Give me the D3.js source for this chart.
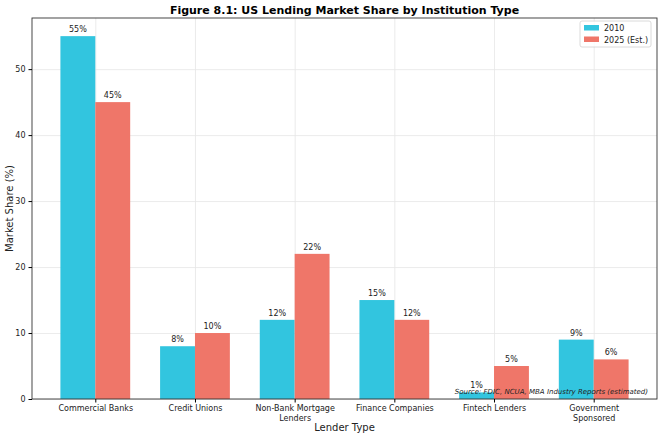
<!DOCTYPE html>
<html>
<head>
<meta charset="utf-8">
<script src="https://cdn.jsdelivr.net/npm/d3@7"></script>
<style>
  body { margin: 0; background: #fff; }
  text { font-family: "DejaVu Sans", sans-serif; fill: #222; }
  .tick text { font-size: 8px; }
  .grid line { stroke: #e6e6e6; stroke-width: 0.8; }
  .grid path { display: none; }
</style>
</head>
<body>
<svg width="660" height="438"></svg>
<script>
// data
const categories = ["Commercial Banks", "Credit Unions", "Non-Bank Mortgage\nLenders",
  "Finance Companies", "Fintech Lenders", "Government\nSponsored"];
const share2010 = [55, 8, 12, 15, 1, 9];
const share2025 = [45, 10, 22, 12, 5, 6];
const seriesNames = ["2010", "2025 (Est.)"];
const yTicks = [0, 10, 20, 30, 40, 50];

const colors = ["#32c5df", "#ef7669"];
const margin = { top: 18, right: 3, bottom: 39, left: 32 };
const width = 660, height = 438;
const barW = 0.35;

const svg = d3.select("svg");

// scales (matplotlib-like limits)
let x = d3.scaleLinear()
  .domain([-0.635, categories.length - 1 + 0.635])
  .range([margin.left, width - margin.right]);
let y = d3.scaleLinear()
  .domain([0, 57.75])
  .range([height - margin.bottom, margin.top]);

// grid
svg.append("g")
  .attr("class", "grid")
  .attr("transform", `translate(0, ${margin.top})`)
  .call(d3.axisTop(x).tickValues(d3.range(categories.length))
    .tickSize(-(height - margin.top - margin.bottom)).tickFormat(""));
svg.append("g")
  .attr("class", "grid")
  .attr("transform", `translate(${margin.left}, 0)`)
  .call(d3.axisLeft(y).tickValues(yTicks)
    .tickSize(-(width - margin.left - margin.right)).tickFormat(""));

// bars
const series = [share2010, share2025];
series.forEach((vals, s) => {
  const off = s === 0 ? -barW / 2 : barW / 2;
  svg.selectAll("rect.s" + s)
    .data(vals)
    .enter()
    .append("rect")
    .attr("class", "s" + s)
    .attr("x", (d, i) => x(i + off - barW / 2))
    .attr("width", x(barW) - x(0))
    .attr("y", d => y(d))
    .attr("height", d => y(0) - y(d))
    .style("fill", colors[s]);

  svg.selectAll("text.v" + s)
    .data(vals)
    .enter()
    .append("text")
    .attr("class", "v" + s)
    .attr("x", (d, i) => x(i + off))
    .attr("y", d => y(d) - 4)
    .attr("text-anchor", "middle")
    .style("font-size", "8px")
    .text(d => d + "%");
});

// frame
svg.append("rect")
  .attr("x", margin.left).attr("y", margin.top)
  .attr("width", width - margin.left - margin.right)
  .attr("height", height - margin.top - margin.bottom)
  .attr("fill", "none").attr("stroke", "#333").attr("stroke-width", 0.9);

// axes
const xAxis = svg.append("g")
  .attr("transform", `translate(0, ${height - margin.bottom})`)
  .call(d3.axisBottom(x).tickValues(d3.range(categories.length)).tickSize(3.5).tickFormat(""));
xAxis.select(".domain").remove();
xAxis.selectAll(".tick").each(function (d) {
  const lines = categories[d].split("\n");
  const t = d3.select(this).append("text")
    .attr("y", 12)
    .attr("text-anchor", "middle")
    .style("font-size", "8px")
    .style("fill", "#222");
  lines.forEach((l, k) => t.append("tspan").attr("x", 0).attr("dy", k === 0 ? 0 : 9.5).text(l));
});

const yAxis = svg.append("g")
  .attr("transform", `translate(${margin.left}, 0)`)
  .call(d3.axisLeft(y).tickValues(yTicks).tickSize(3.5).tickPadding(3));
yAxis.select(".domain").remove();
yAxis.selectAll(".tick text").style("fill", "#222");

// titles
svg.append("text")
  .attr("x", (margin.left + width - margin.right) / 2)
  .attr("y", 14)
  .attr("text-anchor", "middle")
  .style("font-size", "11px")
  .style("font-weight", "bold")
  .style("fill", "#000")
  .text("Figure 8.1: US Lending Market Share by Institution Type");

svg.append("text")
  .attr("x", (margin.left + width - margin.right) / 2)
  .attr("y", 431)
  .attr("text-anchor", "middle")
  .style("font-size", "10px")
  .text("Lender Type");

svg.append("text")
  .attr("transform", `translate(13, ${(margin.top + height - margin.bottom) / 2}) rotate(-90)`)
  .attr("text-anchor", "middle")
  .style("font-size", "10px")
  .text("Market Share (%)");

// legend
const lg = svg.append("g").attr("transform", "translate(580, 21)");
lg.append("rect").attr("width", 71).attr("height", 26).attr("rx", 2)
  .attr("fill", "#fff").attr("fill-opacity", 0.8).attr("stroke", "#d0d0d0").attr("stroke-width", 0.8);
seriesNames.forEach((n, i) => {
  lg.append("rect").attr("x", 4).attr("y", 4 + i * 11.5).attr("width", 15).attr("height", 5.5)
    .style("fill", colors[i]);
  lg.append("text").attr("x", 24).attr("y", 10 + i * 11.5).style("font-size", "8px").text(n);
});

// source note
svg.append("text")
  .attr("x", 648)
  .attr("y", 394)
  .attr("text-anchor", "end")
  .style("font-size", "7px")
  .style("font-style", "italic")
  .text("Source: FDIC, NCUA, MBA Industry Reports (estimated)");
</script>
</body>
</html>
